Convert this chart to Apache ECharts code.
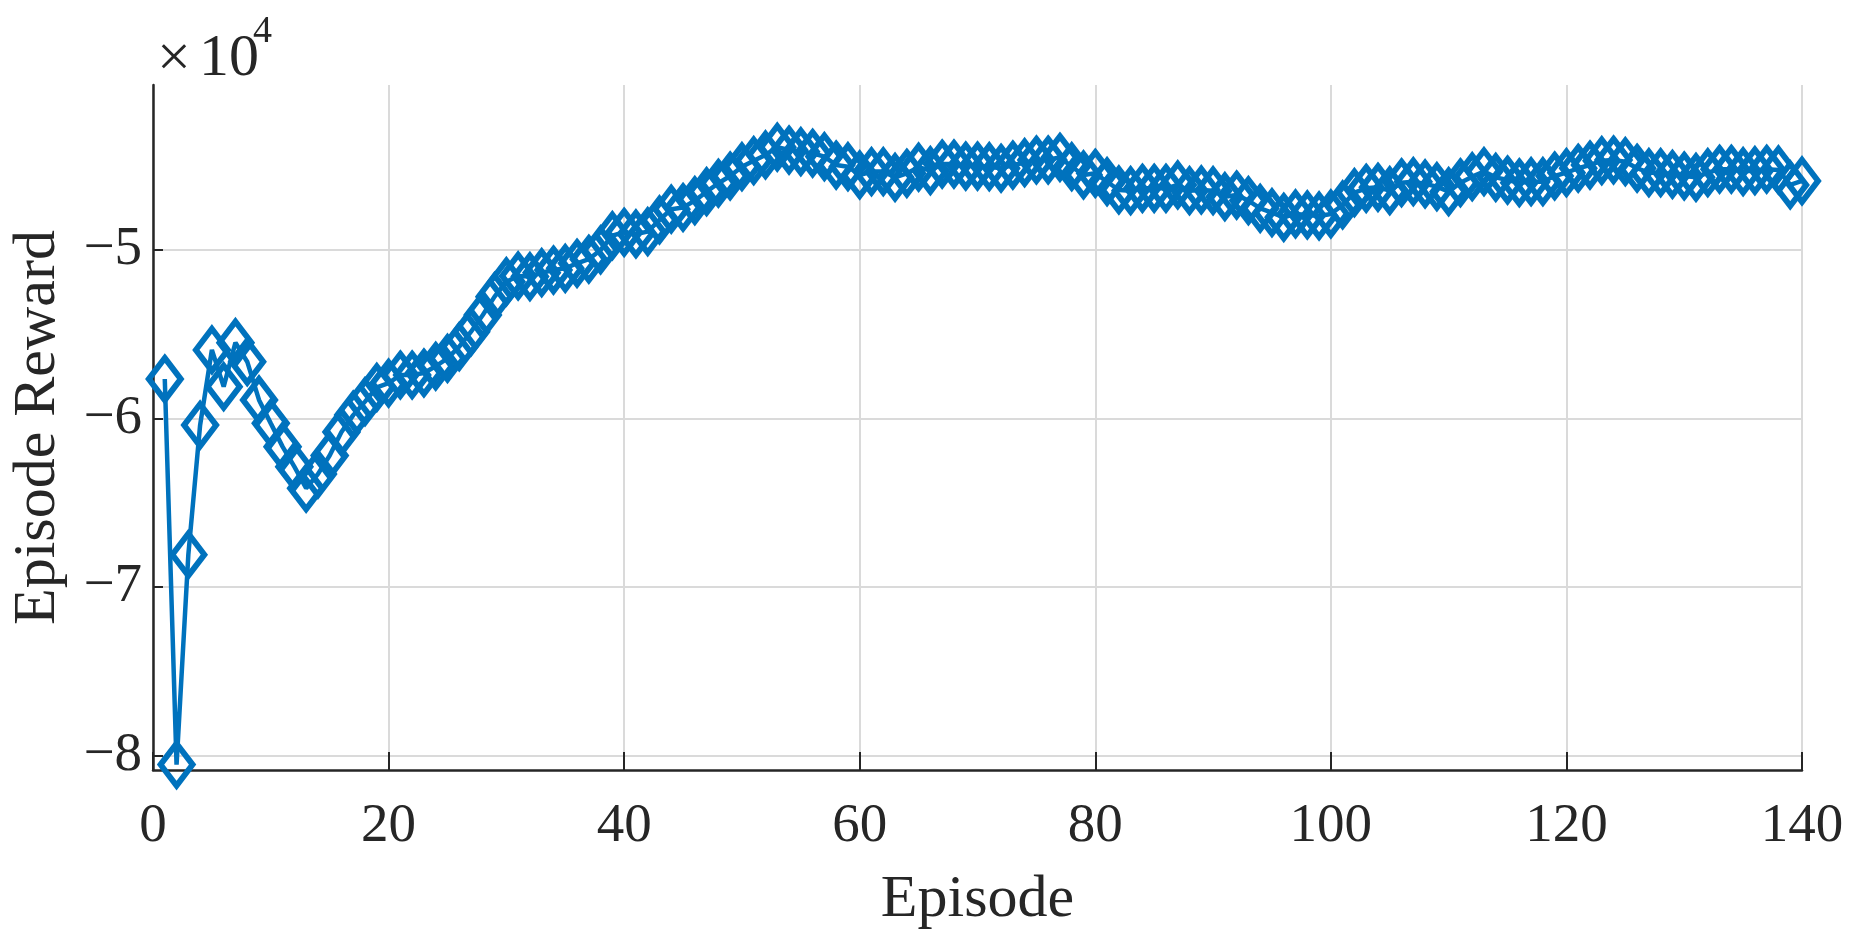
<!DOCTYPE html>
<html>
<head>
<meta charset="utf-8">
<title>Episode Reward</title>
<script src="https://cdn.jsdelivr.net/npm/echarts@6/dist/echarts.min.js"></script>
<style>
  html, body { margin: 0; padding: 0; background: #fff; }
  #chart { width: 1854px; height: 952px; }
</style>
</head>
<body>
<div id="chart"></div>
<script>
// reward per episode (episode 1..140)
const rewards = [
  -57660, -80540, -68080, -60390, -55930, -58110, -55500, -56630, -58900, -60290,
  -61670, -62860, -64140, -63300, -62200, -60800, -59800, -59000, -58150, -57900,
  -57420, -57420, -57300, -56900, -56430, -55740, -54850, -53860, -52770, -51880,
  -51540, -51580, -51350, -51190, -51090, -50790, -50550, -50000, -49150, -48950,
  -49050, -48910, -48220, -47580, -47480, -47070, -46540, -46040, -45610, -45060,
  -44700, -44360, -43900, -44070, -44170, -44260, -44460, -44960, -45060, -45550,
  -45350, -45350, -45690, -45450, -45090, -45290, -44900, -44900, -45020, -45020,
  -45060, -45150, -44960, -44820, -44660, -44660, -44500, -45060, -45550, -45450,
  -45950, -46440, -46480, -46340, -46340, -46340, -46140, -46480, -46440, -46480,
  -46840, -46740, -47070, -47530, -47790, -48060, -47860, -47920, -47980, -47860,
  -47330, -46600, -46340, -46280, -46480, -46010, -45950, -46080, -46240, -46540,
  -46010, -45650, -45350, -45690, -45850, -46010, -45950, -45950, -45610, -45410,
  -45150, -44960, -44700, -44660, -44760, -45150, -45410, -45410, -45510, -45610,
  -45690, -45410, -45210, -45210, -45350, -45290, -45210, -45250, -46140, -45900
];
const yTicks = [-80000, -70000, -60000, -50000];
const yScale = 10000;

const blue = '#0072BD';
const ink = '#262626';
const serif = '"Liberation Serif", "Times New Roman", serif';

const chart = echarts.init(document.getElementById('chart'));
chart.setOption({
  animation: false,
  backgroundColor: '#fff',
  grid: { left: 153, right: 52, top: 85, bottom: 182, outerBoundsMode: 'none' },
  xAxis: {
    type: 'value',
    min: 0,
    max: 140,
    interval: 20,
    name: 'Episode',
    nameLocation: 'middle',
    nameGap: 100,
    nameTextStyle: { fontFamily: serif, fontSize: 60, color: ink },
    axisLine: { onZero: false, lineStyle: { color: ink, width: 2.5 } },
    axisTick: { inside: true, length: 18, lineStyle: { color: ink, width: 2 } },
    axisLabel: { fontFamily: serif, fontSize: 55, color: ink, margin: 29 },
    splitLine: { show: true, lineStyle: { color: '#dadada', width: 2 } }
  },
  yAxis: {
    type: 'value',
    min: -80860,
    max: -40210,
    name: 'Episode Reward',
    nameLocation: 'middle',
    nameGap: 85,
    nameTextStyle: { fontFamily: serif, fontSize: 60, color: ink },
    axisLine: { show: true, onZero: false, lineStyle: { color: ink, width: 2.5 } },
    axisTick: { show: true, inside: true, length: 10, customValues: yTicks, lineStyle: { color: ink, width: 2 } },
    axisLabel: {
      fontFamily: serif, fontSize: 55, color: ink, margin: 11,
      customValues: yTicks,
      formatter: v => '\u2212' + Math.abs(v / yScale)
    },
    splitLine: { show: true, lineStyle: { color: '#dadada', width: 2 } }
  },
  graphic: [
    // exponent label, MATLAB style "x10^4"
    { type: 'text', x: 157, y: 60, style: { text: '\u00d7', font: '60px ' + serif, fill: ink, verticalAlign: 'middle' } },
    { type: 'text', x: 199, y: 59, style: { text: '10', font: '60px ' + serif, fill: ink, verticalAlign: 'middle' } },
    { type: 'text', x: 253, y: 32, style: { text: '4', font: '38px ' + serif, fill: ink, verticalAlign: 'middle' } }
  ],
  series: [{
    type: 'line',
    data: rewards.map((r, i) => [i + 1, r]),
    clip: false,
    symbol: 'path://M0,-1 L1,0 L0,1 L-1,0 Z',
    symbolSize: [32, 42],
    showAllSymbol: true,
    lineStyle: { color: blue, width: 4.5 },
    itemStyle: { color: 'rgba(0,0,0,0)', borderColor: blue, borderWidth: 6 },
    emphasis: { disabled: true }
  }]
});
</script>
</body>
</html>
